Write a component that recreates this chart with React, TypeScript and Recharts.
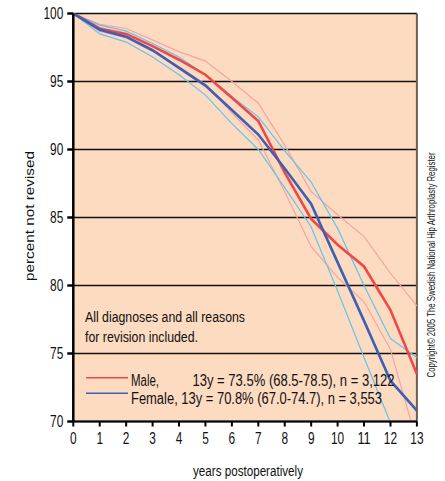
import React from 'react';
import { LineChart, Line, XAxis, YAxis, CartesianGrid, ReferenceLine } from 'recharts';

const years = [0, 1, 2, 3, 4, 5, 6, 7, 8, 9, 10, 11, 12, 13];
const male = [100, 98.9, 98.5, 97.6, 96.6, 95.5, 93.8, 92.1, 88.3, 84.9, 83.0, 81.4, 78.2, 73.5];
const maleLow = [100, 98.7, 98.2, 97.2, 96.1, 94.8, 92.7, 90.7, 86.9, 82.85, 80.6, 78.8, 75.3, 68.5];
const maleHigh = [100, 99.2, 98.9, 98.05, 97.2, 96.5, 95.0, 93.4, 90.3, 86.9, 85.2, 83.6, 80.9, 78.5];
const female = [100, 98.8, 98.3, 97.3, 96.0, 94.7, 92.9, 91.1, 88.6, 86.0, 81.7, 77.4, 73.0, 70.8];
const femaleLow = [100, 98.5, 97.9, 96.8, 95.5, 94.0, 91.9, 90.0, 87.2, 84.3, 79.6, 74.7, 69.9, 67.0];
const femaleHigh = [100, 99.15, 98.7, 97.8, 96.8, 95.5, 93.9, 92.4, 89.9, 87.6, 84.2, 80.0, 76.1, 74.7];
const yTicks = [70, 75, 80, 85, 90, 95, 100];

const data = years.map((yr, i) => ({
  yr,
  male: male[i],
  maleLow: maleLow[i],
  maleHigh: maleHigh[i],
  female: female[i],
  femaleLow: femaleLow[i],
  femaleHigh: femaleHigh[i],
}));

const FONT = "'Liberation Sans', Arial, sans-serif";
const RED = '#ef4848';
const BLUE = '#3d5fb4';
const PINK = '#f5a3a3';
const LIGHTBLUE = '#62c4ef';

// narrow tick labels, the original uses a condensed face
const NarrowTick = (props: any) => {
  const { x, y, payload, textAnchor, dy } = props;
  const label = String(payload.value);
  return (
    <text
      x={x}
      y={y}
      dy={dy ?? '0.355em'}
      textAnchor={textAnchor}
      fontSize={16}
      fontFamily={FONT}
      fill="#111"
      textLength={label.length * 6.6}
      lengthAdjust="spacingAndGlyphs"
    >
      {label}
    </text>
  );
};

const XTick = (props: any) => <NarrowTick {...props} dy="0.71em" />;
const YTick = (props: any) => <NarrowTick {...props} dy="0.355em" />;

const App: React.FC = () => {
  return (
    <div style={{ position: 'absolute', left: 0, top: 0, width: 445, height: 481, background: '#fff' }}>
      <LineChart
        width={445}
        height={481}
        data={data}
        margin={{ top: 13.5, right: 28.1, left: 13.3, bottom: 19.5 }}
        style={{ fontFamily: FONT }}
      >
        <CartesianGrid vertical={false} horizontal fill="#fcdbc1" stroke="#111" strokeWidth={1.5} fillOpacity={1} />
        <XAxis
          dataKey="yr"
          type="number"
          domain={[0, 13]}
          ticks={years}
          interval={0}
          height={40}
          stroke="#000"
          strokeWidth={2}
          tickSize={5}
          tickMargin={6}
          tick={<XTick />}
        />
        <YAxis
          type="number"
          domain={[70, 100]}
          ticks={yTicks}
          allowDataOverflow
          width={60}
          stroke="#000"
          strokeWidth={2.5}
          tickSize={6}
          tickMargin={4}
          tick={<YTick />}
        />
        <ReferenceLine x={13} stroke="#6e5e50" strokeWidth={2} />
        <Line dataKey="maleHigh" stroke={PINK} strokeWidth={1.2} dot={false} isAnimationActive={false} />
        <Line dataKey="maleLow" stroke={PINK} strokeWidth={1.2} dot={false} isAnimationActive={false} />
        <Line dataKey="femaleHigh" stroke={LIGHTBLUE} strokeWidth={1.2} dot={false} isAnimationActive={false} />
        <Line dataKey="femaleLow" stroke={LIGHTBLUE} strokeWidth={1.2} dot={false} isAnimationActive={false} />
        <Line dataKey="male" stroke={RED} strokeWidth={2.6} dot={false} isAnimationActive={false} />
        <Line dataKey="female" stroke={BLUE} strokeWidth={2.6} dot={false} isAnimationActive={false} />
      </LineChart>
      <svg
        width={445}
        height={481}
        style={{ position: 'absolute', left: 0, top: 0, pointerEvents: 'none' }}
        fontFamily={FONT}
        fill="#111"
      >
        <text x={85} y={321.5} fontSize={14} textLength={160} lengthAdjust="spacingAndGlyphs">
          All diagnoses and all reasons
        </text>
        <text x={85} y={341.5} fontSize={14} textLength={113} lengthAdjust="spacingAndGlyphs">
          for revision included.
        </text>
        <line x1={86} x2={128} y1={377.7} y2={377.7} stroke={RED} strokeWidth={1.5} />
        <line x1={86} x2={128} y1={393.3} y2={393.3} stroke={BLUE} strokeWidth={1.5} />
        <text x={131} y={385.5} fontSize={16} textLength={28} lengthAdjust="spacingAndGlyphs">
          Male,
        </text>
        <text x={192.5} y={385.5} fontSize={16} textLength={202} lengthAdjust="spacingAndGlyphs">
          13y = 73.5% (68.5-78.5), n = 3,122
        </text>
        <text x={131} y={404} fontSize={16} textLength={251} lengthAdjust="spacingAndGlyphs">
          Female, 13y = 70.8% (67.0-74.7), n = 3,553
        </text>
        <text x={248} y={476} fontSize={14} textAnchor="middle" textLength={110} lengthAdjust="spacingAndGlyphs">
          years postoperatively
        </text>
        <text
          x={0}
          y={0}
          fontSize={13}
          textAnchor="middle"
          textLength={130}
          lengthAdjust="spacingAndGlyphs"
          transform="translate(34 216) rotate(-90)"
        >
          percent not revised
        </text>
        <text
          x={0}
          y={0}
          fontSize={11.5}
          textAnchor="middle"
          textLength={225}
          lengthAdjust="spacingAndGlyphs"
          transform="translate(435 265) rotate(-90)"
        >
          Copyright© 2005 The Swedish National Hip Arthroplasty Register
        </text>
      </svg>
    </div>
  );
};

export default App;
